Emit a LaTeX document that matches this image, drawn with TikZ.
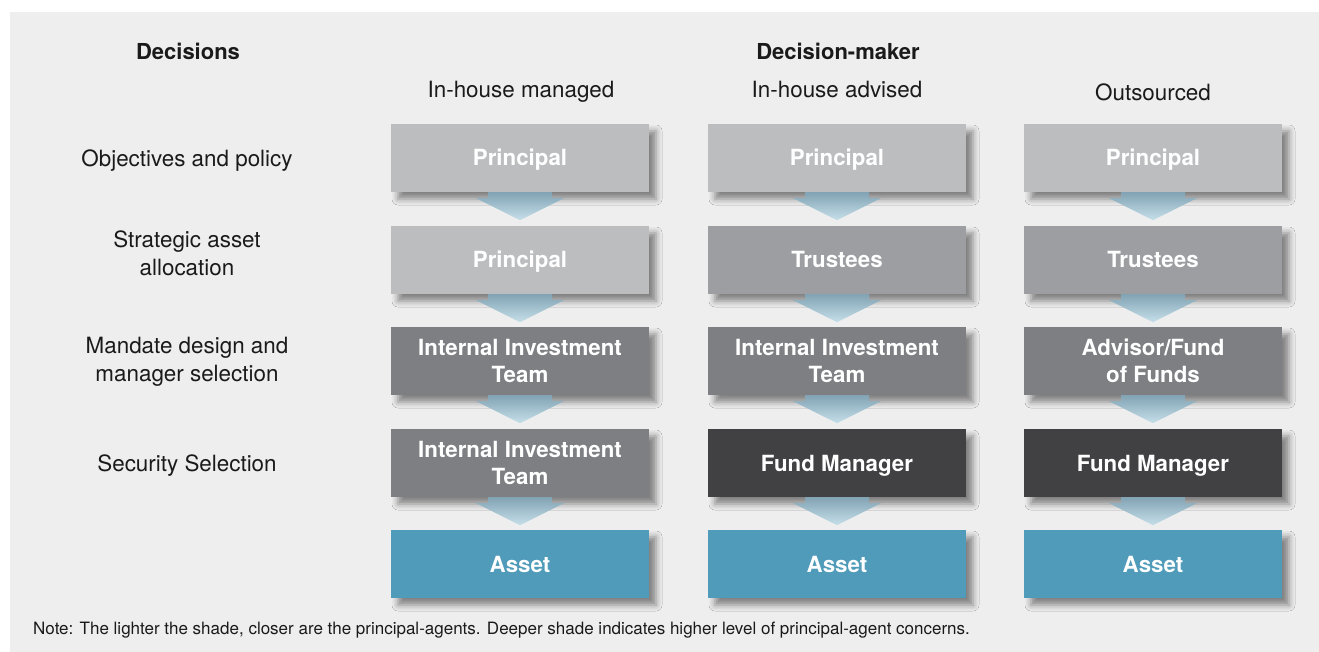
\documentclass[tikz,border=0pt]{standalone}
\usepackage{fontspec}
\setmainfont{TeX Gyre Heros}
\usetikzlibrary{shadows.blur,calc}
\definecolor{bgc}{HTML}{EEEEEE}
\definecolor{lvA}{HTML}{BCBDBF}
\definecolor{lvB}{HTML}{9D9EA2}
\definecolor{lvC}{HTML}{7E7F83}
\definecolor{lvD}{HTML}{414042}
\definecolor{asset}{HTML}{4F9BB9}
\definecolor{arrtop}{HTML}{82A3B4}
\definecolor{arrbot}{HTML}{C6E0EA}
\definecolor{txt}{HTML}{1A1A1A}
\tikzset{
  box/.style={minimum width=258pt, minimum height=68pt, inner sep=0pt, align=center,
    text=white, font=\bfseries\fontsize{22.3}{27}\selectfont,
    blur shadow={shadow xshift=7pt, shadow yshift=-7pt, shadow blur radius=6pt, shadow opacity=45}},
  oneline/.style={text height=16pt, text depth=0pt},
  lab/.style={align=center, text=txt, font=\fontsize{22.4}{28}\selectfont, inner sep=0pt},
  head/.style={text=txt, font=\bfseries\fontsize{22}{26}\selectfont, inner sep=0pt},
}
\newcommand\blockarrow[1]{%
  \shade[top color=arrtop, bottom color=arrbot]
    ($(#1.south)+(-32,0)$) -- ++(0,6) -- ++(-12,0) -- ($(#1.south)+(0,28)$)
    -- ($(#1.south)+(44,6)$) -- ++(-12,0) -- ++(0,-6) -- cycle;}
\begin{document}
\begin{tikzpicture}[x=1pt,y=-1pt]
\useasboundingbox (0,0) rectangle (1319,652);
\fill[white] (0,0) rectangle (1319,652);
\fill[bgc] (10,12) rectangle (1319,652);
% headers
\node[head] (hdec) at (188,51) {Decisions};
\node[head] (hdm) at (838,51) {Decision-maker};
\node[lab] (c1) at (521,92) {In-house managed};
\node[lab] (c2) at (837,90) {In-house advised};
\node[lab] (c3) at (1153,92) {Outsourced};
% row labels
\node[lab] (r1) at (187,161) {Objectives and policy};
\node[lab] (r2) at (187,253) {Strategic asset\\allocation};
\node[lab] (r3) at (187,362) {Mandate design and\\manager selection};
\node[lab] (r4) at (187,466) {Security Selection};
% column 1
\node[box, oneline, fill=lvA] (a1) at (520,158) {Principal};
\node[box, oneline, fill=lvA] (a2) at (520,260) {Principal};
\node[box, fill=lvC] (a3) at (520,361) {Internal Investment\\Team};
\node[box, fill=lvC] (a4) at (520,463) {Internal Investment\\Team};
\node[box, oneline, fill=asset] (a5) at (520,564) {Asset};
% column 2
\node[box, oneline, fill=lvA] (b1) at (837,158) {Principal};
\node[box, oneline, fill=lvB] (b2) at (837,260) {Trustees};
\node[box, fill=lvC] (b3) at (837,361) {Internal Investment\\Team};
\node[box, oneline, fill=lvD] (b4) at (837,463) {Fund Manager};
\node[box, oneline, fill=asset] (b5) at (837,564) {Asset};
% column 3
\node[box, oneline, fill=lvA] (d1) at (1153,158) {Principal};
\node[box, oneline, fill=lvB] (d2) at (1153,260) {Trustees};
\node[box, fill=lvC] (d3) at (1153,361) {Advisor/Fund\\of Funds};
\node[box, oneline, fill=lvD] (d4) at (1153,463) {Fund Manager};
\node[box, oneline, fill=asset] (d5) at (1153,564) {Asset};
% arrows
\foreach \c in {a,b,d}{
  \foreach \r in {1,2,3,4}{
    \blockarrow{\c\r}
  }
}
% note
\node[anchor=west, text=txt, font=\fontsize{17}{19}\selectfont, inner sep=0pt] (note) at (33,630)
  {Note: The lighter the shade, closer are the principal-agents. Deeper shade indicates higher level of principal-agent concerns.};
\end{tikzpicture}
\end{document}
